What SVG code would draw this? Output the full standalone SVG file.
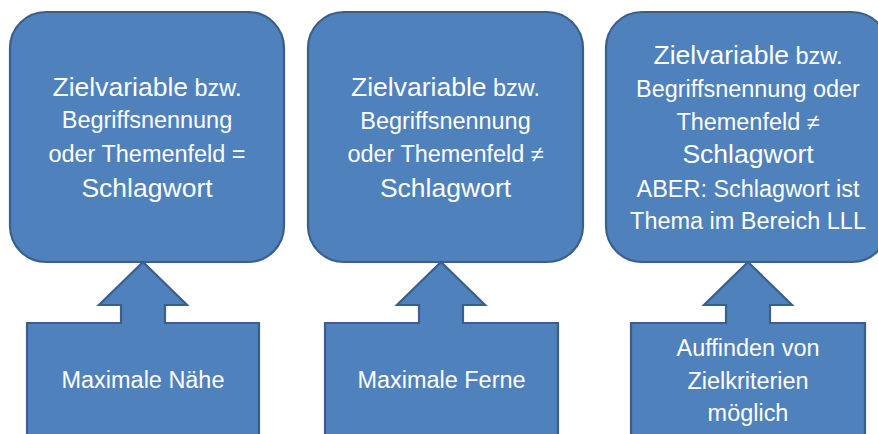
<svg xmlns="http://www.w3.org/2000/svg" width="878" height="434" viewBox="0 0 878 434">
  <style>
    .box { fill: #4F81BD; stroke: #3A5F8D; stroke-width: 2.2; stroke-linejoin: miter; }
    text { fill: #FFFFFF; font-family: "Liberation Sans", Arial, sans-serif; text-anchor: middle; }
    .big { font-size: 26px; }
    .small { font-size: 23px; }
  </style>
  <rect width="878" height="434" fill="#FFFFFF"/>

  <!-- Upper rounded boxes -->
  <g id="ziel-1">
    <rect class="box" x="10" y="12" width="274" height="250" rx="36" ry="36"/>
    <g transform="translate(147,0) scale(1.02,1)">
      <text x="0" y="96"><tspan class="big">Zielvariable</tspan><tspan class="small"> bzw.</tspan></text>
      <text class="small" x="0" y="128.5">Begriffsnennung</text>
      <text class="small" x="0" y="161.7">oder Themenfeld =</text>
      <text class="big" x="0" y="196.7">Schlagwort</text>
    </g>
  </g>

  <g id="ziel-2">
    <rect class="box" x="308" y="12" width="275" height="250" rx="36" ry="36"/>
    <g transform="translate(445.5,0) scale(1.02,1)">
      <text x="0" y="96.5"><tspan class="big">Zielvariable</tspan><tspan class="small"> bzw.</tspan></text>
      <text class="small" x="0" y="129">Begriffsnennung</text>
      <text class="small" x="0" y="161.7">oder Themenfeld ≠</text>
      <text class="big" x="0" y="196.7">Schlagwort</text>
    </g>
  </g>

  <g id="ziel-3">
    <rect class="box" x="606" y="12" width="282" height="250" rx="36" ry="36"/>
    <g transform="translate(748,0) scale(1.02,1)">
      <text x="0" y="64.3"><tspan class="big">Zielvariable</tspan><tspan class="small"> bzw.</tspan></text>
      <text class="small" x="0" y="96.7">Begriffsnennung oder</text>
      <text class="small" x="0" y="130">Themenfeld ≠</text>
      <text class="big" x="0" y="163">Schlagwort</text>
      <text class="small" x="0" y="196.7">ABER: Schlagwort ist</text>
      <text class="small" x="0" y="229">Thema im Bereich LLL</text>
    </g>
  </g>

  <!-- Lower up-arrow callouts pointing at the boxes above -->
  <g id="connectors">
    <g id="naehe">
      <path class="box" d="M27,440 V323 H121 V305 H99 L143,262 L187,305 H165 V323 H259 V440 Z"/>
      <g transform="translate(143,0) scale(1.02,1)">
        <text class="small" x="0" y="388">Maximale Nähe</text>
      </g>
    </g>
    <g id="ferne">
      <path class="box" d="M325,440 V323 H419 V305 H397 L441,262 L485,305 H463 V323 H558 V440 Z"/>
      <g transform="translate(441.5,0) scale(1.02,1)">
        <text class="small" x="0" y="388">Maximale Ferne</text>
      </g>
    </g>
    <g id="zielkriterien">
      <path class="box" d="M631,440 V323 H726 V305 H704 L748,262 L792,305 H770 V323 H865 V440 Z"/>
      <g transform="translate(748,0) scale(1.02,1)">
        <text class="small" x="0" y="356">Auffinden von</text>
        <text class="small" x="0" y="389.3">Zielkriterien</text>
        <text class="small" x="0" y="420.7">möglich</text>
      </g>
    </g>
  </g>
</svg>
